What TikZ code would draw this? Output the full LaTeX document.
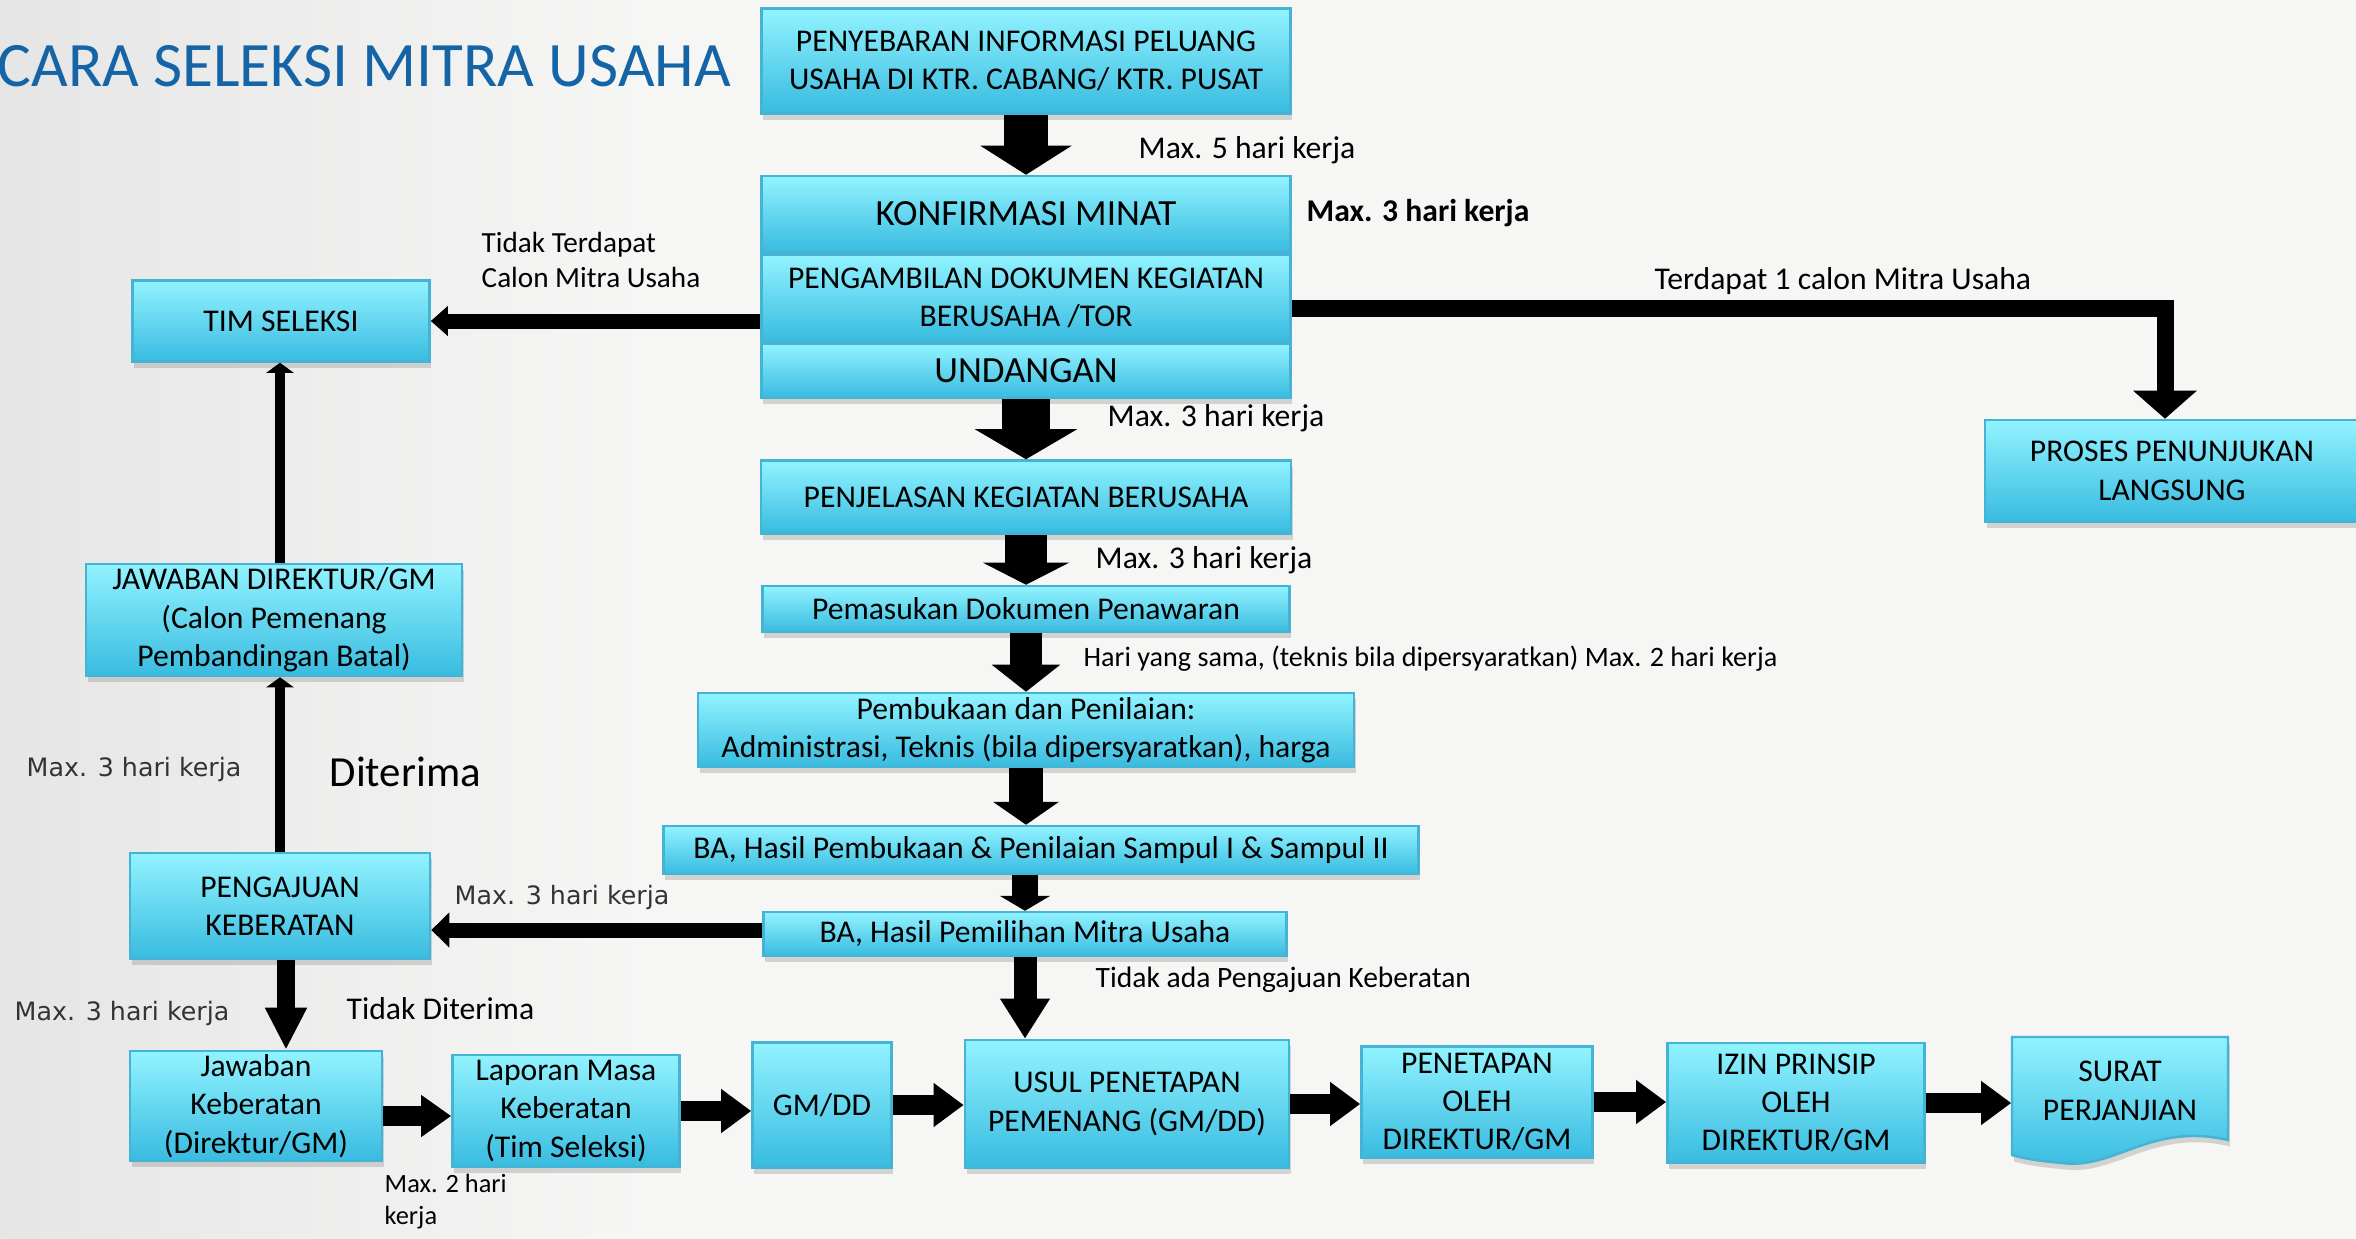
\documentclass[tikz,border=0pt]{standalone}
\usepackage{fontspec}
\setmainfont{Carlito}
\newfontfamily\verdfont{DejaVu Sans}
\usetikzlibrary{arrows.meta,shadows,positioning}
\definecolor{boxtop}{HTML}{92F3FF}
\definecolor{boxbot}{HTML}{38BBE0}
\definecolor{boxline}{HTML}{45B3D3}
\definecolor{titleblue}{HTML}{1565A6}
\definecolor{bgpaper}{HTML}{F6F6F5}
\tikzset{
  stepbox/.style={draw=boxline, line width=0.7pt, top color=boxtop, bottom color=boxbot,
    align=center, inner sep=1pt, font=\fontsize{9}{10.9}\selectfont,
    drop shadow={shadow xshift=0.5pt, shadow yshift=-1.8pt, opacity=0.3}},
  blk/.style n args={3}{draw=black, line width=#1, -{Triangle[width=#2, length=#3]}},
  lbl/.style={font=\fontsize{9}{11}\selectfont, anchor=west, inner sep=0pt},
  vlbl/.style={font=\verdfont\fontsize{7.2}{9}\selectfont, text=black!80, anchor=west, inner sep=0pt},
}
\begin{document}
\begin{tikzpicture}[x=0.01cm, y=-0.01cm]
\useasboundingbox (0,0) rectangle (2356,1239);
\fill[bgpaper] (0,0) rectangle (2356,1239);
\fill[left color=black!10, right color=bgpaper] (0,0) rectangle (650,1239);

\node (judul) [anchor=west, inner sep=0pt, text=titleblue, font=\fontsize{18}{20}\selectfont] at (-3,66) {CARA SELEKSI MITRA USAHA};

% kolom tengah
\node (info) [stepbox, minimum width=5.29cm, minimum height=1.05cm] at (1026,61) {PENYEBARAN INFORMASI PELUANG\\USAHA DI KTR. CABANG/ KTR. PUSAT};
\node (konf) [stepbox, minimum width=5.29cm, minimum height=0.76cm, font=\fontsize{10.5}{12}\selectfont] at (1026,214) {KONFIRMASI MINAT};
\node (ambil) [stepbox, minimum width=5.29cm, minimum height=0.87cm, below=0pt of konf] {PENGAMBILAN DOKUMEN KEGIATAN\\BERUSAHA /TOR};
\node (undang) [stepbox, minimum width=5.29cm, minimum height=0.54cm, below=0pt of ambil, font=\fontsize{10.5}{12}\selectfont] {UNDANGAN};
\node (jelas) [stepbox, minimum width=5.30cm, minimum height=0.73cm] at (1026,497) {PENJELASAN KEGIATAN BERUSAHA};
\node (masuk) [stepbox, minimum width=5.27cm, minimum height=0.46cm] at (1026,609) {Pemasukan Dokumen Penawaran};
\node (buka) [stepbox, minimum width=6.56cm, minimum height=0.74cm] at (1026,730) {Pembukaan dan Penilaian:\\Administrasi, Teknis (bila dipersyaratkan), harga};
\node (sampul) [stepbox, minimum width=7.55cm, minimum height=0.48cm] at (1041,850) {BA, Hasil Pembukaan \& Penilaian Sampul I \& Sampul II};
\node (pilih) [stepbox, minimum width=5.23cm, minimum height=0.44cm] at (1025,934) {BA, Hasil Pemilihan Mitra Usaha};

% kanan
\node (proses) [stepbox, minimum width=3.74cm, minimum height=1.02cm] at (2172,471) {PROSES PENUNJUKAN\\LANGSUNG};

% kiri
\node (tim) [stepbox, minimum width=2.97cm, minimum height=0.81cm] at (281,321) {TIM SELEKSI};
\node (jawdir) [stepbox, minimum width=3.76cm, minimum height=1.12cm] at (274,620) {JAWABAN DIREKTUR/GM\\(Calon Pemenang\\Pembandingan Batal)};
\node (ajuan) [stepbox, minimum width=3.00cm, minimum height=1.06cm] at (280,906) {PENGAJUAN\\KEBERATAN};

% baris bawah
\node (jawab) [stepbox, minimum width=2.52cm, minimum height=1.02cm] at (256,1106) {Jawaban\\Keberatan\\(Direktur/GM)};
\node (lapor) [stepbox, minimum width=2.27cm, minimum height=1.12cm] at (566,1111) {Laporan Masa\\Keberatan\\(Tim Seleksi)};
\node (gmdd) [stepbox, minimum width=1.39cm, minimum height=1.25cm] at (822,1105) {GM/DD};
\node (usul) [stepbox, minimum width=3.24cm, minimum height=1.28cm] at (1127,1104) {USUL PENETAPAN\\PEMENANG (GM/DD)};
\node (tetap) [stepbox, minimum width=2.31cm, minimum height=1.11cm] at (1477,1102) {PENETAPAN\\OLEH\\DIREKTUR/GM};
\node (izin) [stepbox, minimum width=2.57cm, minimum height=1.20cm] at (1796,1103) {IZIN PRINSIP\\OLEH\\DIREKTUR/GM};
\path[draw=boxline, line width=0.7pt, top color=boxtop, bottom color=boxbot,
  drop shadow={shadow xshift=0.5pt, shadow yshift=-1.8pt, opacity=0.3}]
  (2012,1037) -- (2228,1037) -- (2228,1140)
  .. controls (2150,1122) and (2115,1170) .. (2062,1163)
  .. controls (2038,1161) and (2022,1158) .. (2012,1155) -- cycle;
\node (surat) [align=center, inner sep=0pt, minimum width=2.16cm, minimum height=0.9cm, font=\fontsize{9}{11}\selectfont] at (2120,1091) {SURAT\\PERJANJIAN};

% panah
\draw[blk={0.43cm}{0.90cm}{0.29cm}] (info) -- (konf);
\draw[blk={0.48cm}{1.01cm}{0.30cm}] (undang) -- (jelas);
\draw[blk={0.41cm}{0.85cm}{0.22cm}] (jelas) -- (masuk);
\draw[blk={0.31cm}{0.67cm}{0.27cm}] (masuk) -- (buka);
\draw[blk={0.34cm}{0.65cm}{0.23cm}] (buka.south) -- (buka.south |- sampul.north);
\draw[blk={0.25cm}{0.50cm}{0.15cm}] (sampul.south -| pilih) -- (pilih);
\draw[blk={0.23cm}{0.47cm}{0.40cm}] (pilih.south) -- (pilih.south |- usul.north);
\draw[blk={0.15cm}{0.29cm}{0.17cm}] (ambil.west |- tim.east) -- (tim.east);
\draw[blk={0.17cm}{0.62cm}{0.28cm}] ([yshift=-0.1cm]ambil.east) -| ([xshift=-0.07cm]proses.north);
\draw[blk={0.15cm}{0.34cm}{0.18cm}] ([yshift=0.04cm]pilih.west) -- ([yshift=0.04cm]pilih.west -| ajuan.east);
\draw[blk={0.10cm}{0.27cm}{0.10cm}] (ajuan.north) -- (ajuan.north |- jawdir.south);
\draw[blk={0.10cm}{0.27cm}{0.10cm}] (jawdir.north -| ajuan.north) -- (ajuan.north |- tim.south);
\draw[blk={0.18cm}{0.39cm}{0.42cm}] ([xshift=0.06cm]ajuan.south) -- ([xshift=0.06cm]ajuan.south |- jawab.north);
\draw[blk={0.20cm}{0.40cm}{0.30cm}] ([yshift=-0.1cm]jawab.east) -- ([yshift=-0.1cm]jawab.east -| lapor.west);
\draw[blk={0.20cm}{0.42cm}{0.30cm}] (lapor.east) -- (lapor.east -| gmdd.west);
\draw[blk={0.20cm}{0.42cm}{0.30cm}] (gmdd.east) -- (gmdd.east -| usul.west);
\draw[blk={0.20cm}{0.42cm}{0.30cm}] (usul.east) -- (usul.east -| tetap.west);
\draw[blk={0.20cm}{0.42cm}{0.30cm}] (tetap.east) -- (tetap.east -| izin.west);
\draw[blk={0.20cm}{0.42cm}{0.30cm}] (izin.east) -- (izin.east -| surat.west);

% keterangan
\node (l5) [lbl] at (1138,150) {Max. 5 hari kerja};
\node (l3a) [lbl, font=\bfseries\fontsize{9}{11}\selectfont] at (1306,213) {Max. 3 hari kerja};
\node (ltidak) [lbl, align=left, font=\fontsize{8.3}{9.7}\selectfont] at (481,260) {Tidak Terdapat\\Calon Mitra Usaha};
\node (lsatu) [lbl] at (1654,281) {Terdapat 1 calon Mitra Usaha};
\node (l3b) [lbl] at (1107,418) {Max. 3 hari kerja};
\node (l3c) [lbl] at (1095,560) {Max. 3 hari kerja};
\node (lsama) [lbl, font=\fontsize{8}{9}\selectfont] at (1083,659) {Hari yang sama, (teknis bila dipersyaratkan) Max. 2 hari kerja};
\node (lnihil) [lbl, font=\fontsize{8.4}{10}\selectfont] at (1095,980) {Tidak ada Pengajuan Keberatan};
\node (v1) [vlbl] at (454,898) {Max. 3 hari kerja};
\node (v2) [vlbl] at (26,770) {Max. 3 hari kerja};
\node (v3) [vlbl] at (14,1014) {Max. 3 hari kerja};
\node (lterima) [lbl, font=\fontsize{12.2}{14}\selectfont] at (329,772) {Diterima};
\node (ltolak) [lbl] at (346,1009) {Tidak Diterima};
\node (ldua) [lbl, align=left, font=\fontsize{7.5}{9.1}\selectfont] at (384,1202) {Max. 2 hari\\kerja};
\end{tikzpicture}
\end{document}
